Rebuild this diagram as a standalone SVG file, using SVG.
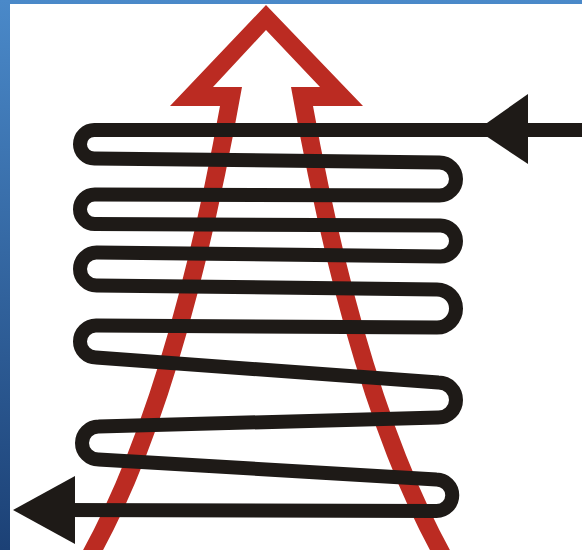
<svg xmlns="http://www.w3.org/2000/svg" width="582" height="550" viewBox="0 0 582 550">
  <defs>
    <linearGradient id="blueGrad" x1="0" y1="0" x2="0" y2="1">
      <stop offset="0" stop-color="#4a89c9"/>
      <stop offset="1" stop-color="#1c4176"/>
    </linearGradient>
    <style>
      .coil { fill: none; stroke: #1e1a17; stroke-width: 14; stroke-linejoin: round; }
      .head { fill: #1e1a17; }
      .heat { fill: #bb2b22; }
    </style>
  </defs>
  <rect x="0" y="0" width="582" height="550" fill="url(#blueGrad)"/>
  <rect x="10" y="4" width="572" height="546" fill="#ffffff"/>
  <g id="heat-arrow">
    <path class="heat" d="M 82,552 Q 167,398 220,106 L 170,106 L 266,5 L 363,106 L 313,106 Q 366,398 451,552 L 431,552 Q 346,396 291,87 L 320,87 L 266,30 L 213,87 L 242,87 Q 187,396 102,552 Z"/>
  </g>
  <g id="connectors">
    <path class="coil" d="M 590,130 H 94.25 A 14.25 14.25 0 0 0 94.25,158.5 L 439.5,162.5 A 16.5 16.5 0 0 1 439.5,195.5 L 94.75,194.5 A 14.75 14.75 0 0 0 94.75,224 L 440.5,225.5 A 15.5 15.5 0 0 1 440.5,256.5 L 96.5,252.5 A 16.5 16.5 0 0 0 96.5,285.5 L 437,289.5 A 19 19 0 0 1 437,327.5 L 96,325.5 A 16 16 0 0 0 96,357.5 L 438.5,382.5 A 17.5 17.5 0 0 1 438.5,417.5 L 98.5,426.5 A 16.5 16.5 0 0 0 98.5,459.5 L 436.5,479.5 A 15.75 15.75 0 0 1 436.5,511 L 60,510"/>
    <polygon id="inlet-arrow" class="head" points="477,130 528,94 528,164"/>
    <polygon id="outlet-arrow" class="head" points="13,510 75,476 75,544"/>
  </g>
</svg>
